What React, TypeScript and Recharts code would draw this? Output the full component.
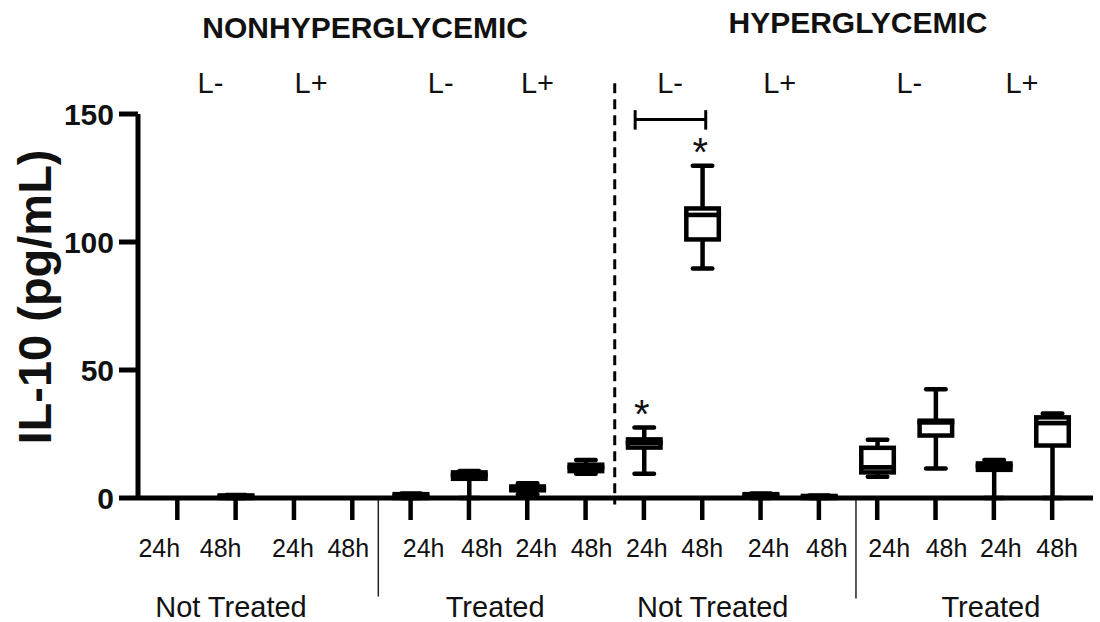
import { ComposedChart, Bar, XAxis, YAxis, ReferenceLine, ReferenceDot, Label } from 'recharts';

// one box per x slot, left to right
const timePoints = ['24h', '48h', '24h', '48h', '24h', '48h', '24h', '48h', '24h', '48h', '24h', '48h', '24h', '48h', '24h', '48h'];
const lightLabels = ['L-', 'L+', 'L-', 'L+', 'L-', 'L+', 'L-', 'L+'];
const treatmentGroups = ['Not Treated', 'Treated', 'Not Treated', 'Treated'];
const conditionGroups = ['NONHYPERGLYCEMIC', 'HYPERGLYCEMIC'];

const minValues = [null, 0, null, null, 0, 0, 1.5, 9.5, 9.5, 89.6, 0, 0, 8.3, 11.5, 0, 0];
const q1Values = [null, 0, null, null, 0, 7.5, 3, 10.5, 19.7, 101, 0.3, 0, 10, 24.4, 11, 20.5];
const medianValues = [null, 0.5, null, null, 0.8, 9, 3.8, 12, 21.6, 110.6, 1, 0.4, 12, 29.6, 12.5, 29.3];
const q3Values = [null, 1, null, null, 1.5, 10, 4.5, 13, 22.9, 113.1, 1.5, 0.8, 19.6, 30.2, 13.5, 31.5];
const maxValues = [null, 1.2, null, null, 1.8, 10.5, 5.8, 14.8, 27.5, 129.8, 1.8, 1, 22.8, 42.5, 14.8, 33];
const significant = [false, false, false, false, false, false, false, false, true, true, false, false, false, false, false, false];

const yTicks = [0, 50, 100, 150];

// layout tweaks (index units / px)
const X_DOMAIN = [-0.674, 15.7];
const tickShift = [-18, -15, -1, -4, 13, 13, 9, 6, 3, 0, 8, 8, 12, 11, 7, 5];
const lightShift = [4, -12, 1, -19, -3, -10, 3, -1];
const conditionX = [3.22, 11.67];
const conditionY = [179.7, 181.6];
const treatmentX = [0.92, 5.45, 9.18, 13.95];

const FONT = "'Liberation Sans', Arial, Helvetica, sans-serif";
const STROKE = 4.5;

const rows = timePoints.map((t, i) => {
  const mn = minValues[i];
  if (mn == null) {
    return { pos: i, label: t, empty: true, base: 0, lowW: 0, boxLo: 0, boxHi: 0, highW: 0 };
  }
  return {
    pos: i,
    label: t,
    empty: false,
    base: mn,
    lowW: q1Values[i] - mn,
    boxLo: medianValues[i] - q1Values[i],
    boxHi: q3Values[i] - medianValues[i],
    highW: maxValues[i] - q3Values[i],
  };
});

const CAP = 9.75;

const LowWhisker = (p: any) => {
  if (p.payload?.empty || !Number.isFinite(p.y)) return null;
  const cx = p.x + p.width / 2;
  const bottom = p.y + p.height;
  return (
    <g>
      <line x1={cx} x2={cx} y1={p.y} y2={bottom} stroke="#000" strokeWidth={STROKE} />
      <line x1={cx - CAP} x2={cx + CAP} y1={bottom} y2={bottom} stroke="#000" strokeWidth={STROKE} strokeLinecap="round" />
    </g>
  );
};

const HighWhisker = (p: any) => {
  if (p.payload?.empty || !Number.isFinite(p.y)) return null;
  const cx = p.x + p.width / 2;
  const bottom = p.y + p.height;
  return (
    <g>
      <line x1={cx} x2={cx} y1={bottom} y2={p.y} stroke="#000" strokeWidth={STROKE} />
      <line x1={cx - CAP} x2={cx + CAP} y1={p.y} y2={p.y} stroke="#000" strokeWidth={STROKE} strokeLinecap="round" />
    </g>
  );
};

const BoxPart = (p: any) => {
  if (p.payload?.empty || !Number.isFinite(p.y)) return null;
  return (
    <rect
      x={p.x + STROKE / 2}
      y={p.y}
      width={p.width - STROKE}
      height={Math.max(p.height, 0.01)}
      fill="#fff"
      stroke="#000"
      strokeWidth={STROKE}
    />
  );
};

const BottomTick = (props: any) => {
  const { x, y, payload, index } = props;
  return (
    <text x={x + (tickShift[index] ?? 0)} y={y + 35} textAnchor="middle" fontSize={25} fontFamily={FONT} fill="#111">
      {timePoints[payload.value] ?? ''}
    </text>
  );
};

const TopTick = (props: any) => {
  const { x, y, index } = props;
  return (
    <text x={x + (lightShift[index] ?? 0)} y={y - 21} textAnchor="middle" fontSize={29} fontFamily={FONT} fill="#111">
      {lightLabels[index]}
    </text>
  );
};

const textAt = (text: string, size: number, weight: string, dx = 0) => (props: any) => {
  const vb = props.viewBox || {};
  const cx = (vb.x ?? 0) + (vb.width ?? 0) / 2;
  const cy = (vb.y ?? 0) + (vb.height ?? 0) / 2;
  return (
    <text x={cx + dx} y={cy} textAnchor="middle" fontSize={size} fontWeight={weight} fontFamily={FONT} fill="#111">
      {text}
    </text>
  );
};

const YTitle = (props: any) => {
  const vb = props.viewBox || { y: 114, height: 384 };
  const cy = vb.y + vb.height / 2 - 9;
  return (
    <text
      x={51}
      y={cy}
      transform={`rotate(-90, 51, ${cy})`}
      textAnchor="middle"
      fontSize={47}
      fontWeight="bold"
      fontFamily={FONT}
      fill="#111"
    >
      IL-10 (pg/mL)
    </text>
  );
};

export default function App() {
  return (
    <div style={{ position: 'absolute', left: 0, top: 0, width: 1100, height: 622, background: '#fff' }}>
      <ComposedChart width={1100} height={622} data={rows} margin={{ top: 0, right: 7, bottom: 0, left: 0 }}>
        <XAxis
          dataKey="pos"
          type="number"
          domain={X_DOMAIN}
          ticks={timePoints.map((_, i) => i)}
          interval={0}
          height={124}
          tickSize={22}
          tickMargin={2}
          axisLine={{ stroke: '#000', strokeWidth: 5 }}
          tickLine={{ stroke: '#000', strokeWidth: STROKE }}
          tick={<BottomTick />}
        />
        <XAxis
          xAxisId="top"
          dataKey="pos"
          orientation="top"
          type="number"
          domain={X_DOMAIN}
          ticks={lightLabels.map((_, i) => i * 2 + 0.5)}
          interval={0}
          height={114}
          tickSize={0}
          tickMargin={0}
          axisLine={false}
          tickLine={false}
          tick={<TopTick />}
        />
        <YAxis
          type="number"
          domain={[0, 150]}
          ticks={yTicks}
          width={138}
          tickSize={19}
          tickMargin={5}
          axisLine={{ stroke: '#000', strokeWidth: 5 }}
          tickLine={{ stroke: '#000', strokeWidth: 5 }}
          tick={{ fill: '#111', fontSize: 30, fontWeight: 'bold', fontFamily: FONT }}
        >
          <Label content={<YTitle />} />
        </YAxis>

        <Bar dataKey="base" stackId="box" barSize={37} fill="none" shape={() => null} isAnimationActive={false} />
        <Bar dataKey="lowW" stackId="box" barSize={37} shape={LowWhisker} isAnimationActive={false} />
        <Bar dataKey="boxLo" stackId="box" barSize={37} shape={BoxPart} isAnimationActive={false} />
        <Bar dataKey="boxHi" stackId="box" barSize={37} shape={BoxPart} isAnimationActive={false} />
        <Bar dataKey="highW" stackId="box" barSize={37} shape={HighWhisker} isAnimationActive={false} />

        {/* split between the two conditions */}
        <ReferenceLine
          segment={[{ x: 7.5, y: 162 }, { x: 7.5, y: -2.5 }]}
          ifOverflow="visible"
          stroke="#000"
          strokeWidth={3}
          strokeDasharray="10 6"
        />
        {/* thin separators under the axis */}
        <ReferenceLine segment={[{ x: 3.446, y: 0 }, { x: 3.446, y: -38.5 }]} ifOverflow="visible" stroke="#222" strokeWidth={1.5} />
        <ReferenceLine segment={[{ x: 11.636, y: 0 }, { x: 11.636, y: -39.3 }]} ifOverflow="visible" stroke="#222" strokeWidth={1.5} />

        {/* comparison bracket between hyperglycemic not treated 24h and 48h */}
        <ReferenceLine segment={[{ x: 7.85, y: 147.9 }, { x: 9.06, y: 147.9 }]} ifOverflow="visible" stroke="#000" strokeWidth={3} />
        <ReferenceLine segment={[{ x: 7.85, y: 151.5 }, { x: 7.85, y: 143.9 }]} ifOverflow="visible" stroke="#000" strokeWidth={3} />
        <ReferenceLine segment={[{ x: 9.06, y: 151.5 }, { x: 9.06, y: 143.9 }]} ifOverflow="visible" stroke="#000" strokeWidth={3} />

        {significant.map((s, i) =>
          s ? (
            <ReferenceDot
              key={`star-${i}`}
              x={i}
              y={maxValues[i] as number}
              r={0}
              fill="none"
              stroke="none"
              ifOverflow="visible"
              label={{ content: textAt('*', 40, 'normal', -2) }}
            />
          ) : null
        )}

        {conditionGroups.map((g, i) => (
          <ReferenceDot
            key={g}
            x={conditionX[i]}
            y={conditionY[i]}
            r={0}
            fill="none"
            stroke="none"
            ifOverflow="visible"
            label={{ content: textAt(g, 30, 'bold') }}
          />
        ))}

        {treatmentGroups.map((g, i) => (
          <ReferenceDot
            key={`${g}-${i}`}
            x={treatmentX[i]}
            y={-46.5}
            r={0}
            fill="none"
            stroke="none"
            ifOverflow="visible"
            label={{ content: textAt(g, 29, 'normal') }}
          />
        ))}
      </ComposedChart>
    </div>
  );
}
